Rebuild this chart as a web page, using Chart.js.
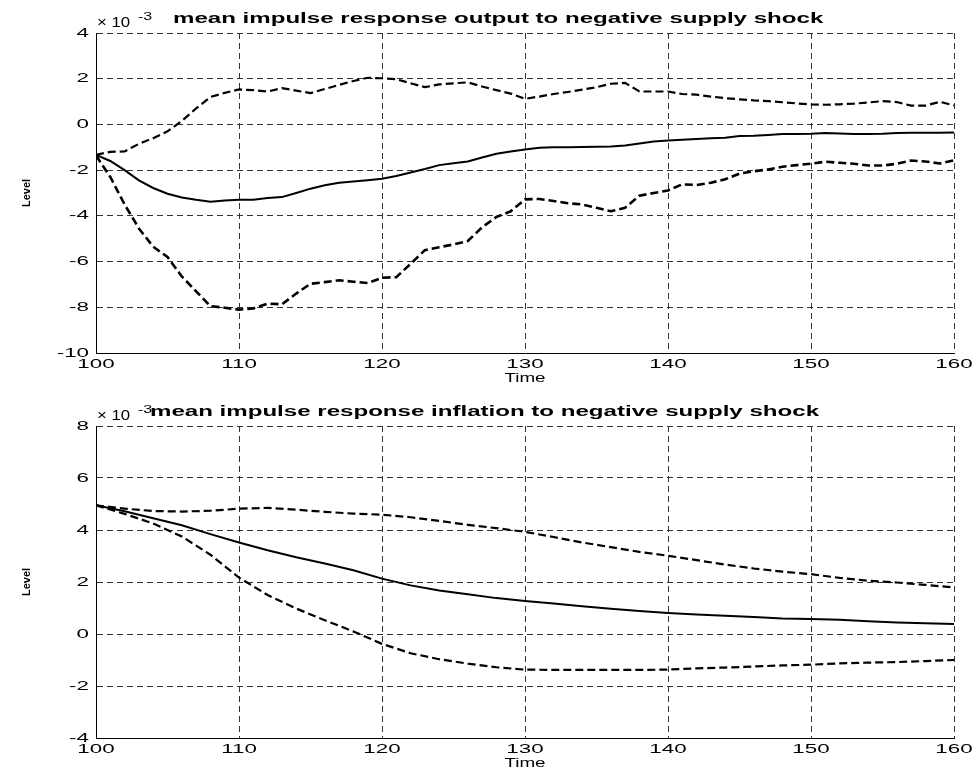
<!DOCTYPE html>
<html>
<head>
<meta charset="utf-8">
<script src="https://cdn.jsdelivr.net/npm/chart.js@4.4.1/dist/chart.umd.min.js"></script>
<style>
  html, body { margin: 0; padding: 0; background: #fff; }
  #wrap { position: relative; width: 977px; height: 769px; }
  canvas { position: absolute; left: 0; }
</style>
</head>
<body>
<div id="wrap">
  <canvas id="outputChart" width="977" height="390" style="top:0"></canvas>
  <canvas id="inflationChart" width="977" height="379" style="top:390px"></canvas>
</div>
<script>
// time axis of the output plot (every period)
const outputTimes = [100,101,102,103,104,105,106,107,108,109,110,111,112,113,114,115,116,117,118,119,
  120,121,122,123,124,125,126,127,128,129,130,131,132,133,134,135,136,137,138,139,
  140,141,142,143,144,145,146,147,148,149,150,151,152,153,154,155,156,157,158,159,160];

// output response, units of 1e-3
const outputUpper = [-1.33,-1.20,-1.18,-0.85,-0.60,-0.30,0.15,0.70,1.20,1.38,
  1.53,1.50,1.44,1.59,1.48,1.37,1.55,1.73,1.90,2.04,
  2.02,1.98,1.80,1.63,1.75,1.80,1.84,1.66,1.50,1.35,
  1.12,1.22,1.33,1.42,1.52,1.63,1.78,1.82,1.44,1.44,
  1.44,1.33,1.30,1.22,1.15,1.10,1.05,1.02,0.97,0.92,
  0.88,0.86,0.88,0.91,0.96,1.02,0.98,0.82,0.82,0.99,0.83];
const outputMean = [-1.33,-1.60,-2.00,-2.45,-2.78,-3.03,-3.20,-3.30,-3.38,-3.33,
  -3.29,-3.29,-3.22,-3.18,-3.00,-2.81,-2.66,-2.55,-2.50,-2.44,
  -2.38,-2.26,-2.10,-1.95,-1.78,-1.70,-1.62,-1.45,-1.28,-1.18,
  -1.10,-1.02,-1.00,-1.00,-0.99,-0.98,-0.97,-0.92,-0.83,-0.75,
  -0.70,-0.67,-0.64,-0.60,-0.58,-0.51,-0.50,-0.46,-0.42,-0.42,
  -0.41,-0.38,-0.40,-0.42,-0.42,-0.41,-0.38,-0.36,-0.36,-0.36,-0.35];
const outputLower = [-1.36,-2.30,-3.50,-4.55,-5.35,-5.80,-6.65,-7.30,-7.95,-8.02,
  -8.10,-8.05,-7.84,-7.87,-7.40,-6.97,-6.90,-6.82,-6.88,-6.94,
  -6.71,-6.68,-6.10,-5.50,-5.37,-5.25,-5.10,-4.50,-4.05,-3.80,
  -3.28,-3.26,-3.35,-3.45,-3.50,-3.65,-3.80,-3.65,-3.12,-3.00,
  -2.89,-2.62,-2.65,-2.55,-2.40,-2.15,-2.05,-1.97,-1.85,-1.78,
  -1.72,-1.63,-1.68,-1.72,-1.80,-1.80,-1.72,-1.58,-1.62,-1.71,-1.57];

// inflation plot, read every second period
const inflationTimes = [100,102,104,106,108,110,112,114,116,118,120,122,124,126,128,130,
  132,134,136,138,140,142,144,146,148,150,152,154,156,158,160];
const inflationUpper = [4.95,4.82,4.73,4.71,4.74,4.82,4.85,4.78,4.70,4.63,4.59,4.49,4.35,4.20,4.07,3.93,
  3.73,3.52,3.34,3.16,3.01,2.84,2.67,2.52,2.40,2.30,2.16,2.05,1.98,1.89,1.79];
const inflationMean = [4.95,4.72,4.45,4.18,3.84,3.52,3.22,2.95,2.71,2.45,2.13,1.87,1.67,1.53,1.38,1.27,
  1.17,1.07,0.97,0.88,0.81,0.75,0.70,0.65,0.60,0.58,0.55,0.49,0.44,0.41,0.38];
const inflationLower = [4.95,4.62,4.25,3.75,3.05,2.17,1.50,0.98,0.53,0.10,-0.38,-0.74,-0.97,-1.14,-1.28,-1.37,
  -1.38,-1.38,-1.38,-1.38,-1.37,-1.32,-1.29,-1.25,-1.21,-1.18,-1.13,-1.10,-1.08,-1.04,-1.00];

// tick labels
const timeTicks = [100,110,120,130,140,150,160];
const outputTicks = [-10,-8,-6,-4,-2,0,2,4];
const inflationTicks = [-4,-2,0,2,4,6,8];

const FONT = '"Liberation Sans", Arial, Helvetica, sans-serif';
const STRETCH = 1.72;

// draws text stretched horizontally, like the exported figure
function wideText(ctx, text, x, y, font, align, sx, baseline) {
    ctx.save();
    ctx.font = font;
    ctx.textBaseline = baseline || 'middle';
    ctx.textAlign = 'left';
    const w = ctx.measureText(text).width * sx;
    let left = x;
    if (align === 'center') left = x - w / 2;
    if (align === 'right') left = x - w;
    ctx.translate(left, y);
    ctx.scale(sx, 1);
    ctx.fillStyle = '#000';
    ctx.fillText(text, 0, 0);
    ctx.restore();
}

function points(times, values) {
    return times.map((t, i) => ({ x: t, y: values[i] }));
}

function makeChart(id, cfg) {
    const labelsPlugin = {
        id: 'matlabText',
        afterDraw(chart) {
            const ctx = chart.ctx;
            const xs = chart.scales.x;
            const ys = chart.scales.y;
            const area = chart.chartArea;
            cfg.yTicks.forEach(v => {
                wideText(ctx, String(v), 89, ys.getPixelForValue(v), '13px ' + FONT, 'right', STRETCH);
            });
            timeTicks.forEach(v => {
                wideText(ctx, String(v), xs.getPixelForValue(v), area.bottom + 11, '13px ' + FONT, 'center', STRETCH);
            });
            wideText(ctx, 'Time', (area.left + area.right) / 2, area.bottom + 25, '13px ' + FONT, 'center', 1.45);
            // exponent + title
            wideText(ctx, '\u00d7 10', 97, area.top - 6, '14px ' + FONT, 'left', 1.2, 'alphabetic');
            wideText(ctx, '-3', 138, area.top - 13, '10px ' + FONT, 'left', 1.6, 'alphabetic');
            wideText(ctx, cfg.title, cfg.titleX, area.top - 10, 'bold 14px ' + FONT, 'left', STRETCH, 'alphabetic');
            // rotated y label
            ctx.save();
            ctx.translate(27, (area.top + area.bottom) / 2);
            ctx.rotate(-Math.PI / 2);
            ctx.font = 'bold 11px ' + FONT;
            ctx.textAlign = 'center';
            ctx.textBaseline = 'middle';
            ctx.fillStyle = '#000';
            ctx.fillText('Level', 0, 0);
            ctx.restore();
        }
    };

    return new Chart(document.getElementById(id).getContext('2d'), {
        type: 'line',
        data: {
            datasets: [{
                label: 'upper',
                data: points(cfg.times, cfg.upper),
                borderColor: '#000',
                borderWidth: 2.2,
                borderDash: [8, 4],
                pointRadius: 0,
                tension: 0
            }, {
                label: 'mean',
                data: points(cfg.times, cfg.mean),
                borderColor: '#000',
                borderWidth: 2,
                pointRadius: 0,
                tension: 0
            }, {
                label: 'lower',
                data: points(cfg.times, cfg.lower),
                borderColor: '#000',
                borderWidth: cfg.lowerWidth,
                borderDash: [8, 4],
                pointRadius: 0,
                tension: 0
            }]
        },
        options: {
            responsive: false,
            animation: false,
            layout: { padding: { left: 0, right: 23, top: cfg.top, bottom: 0 } },
            plugins: {
                legend: { display: false },
                tooltip: { enabled: false }
            },
            scales: {
                x: {
                    type: 'linear',
                    min: 100,
                    max: 160,
                    ticks: { display: false, stepSize: 10 },
                    grid: { color: '#333', lineWidth: 1, drawTicks: false },
                    border: { display: true, color: '#000', width: 1, dash: [6, 4] },
                    afterFit: scale => { scale.height = cfg.xHeight; }
                },
                y: {
                    min: cfg.yMin,
                    max: cfg.yMax,
                    ticks: { display: false, stepSize: 2 },
                    grid: { color: '#333', lineWidth: 1, drawTicks: false },
                    border: { display: true, color: '#000', width: 1, dash: [6, 4] },
                    afterFit: scale => { scale.width = 96; }
                }
            }
        },
        plugins: [labelsPlugin]
    });
}

makeChart('outputChart', {
    times: outputTimes, upper: outputUpper, mean: outputMean, lower: outputLower,
    yMin: -10, yMax: 4, yTicks: outputTicks, top: 33, xHeight: 37, lowerWidth: 2.6,
    title: 'mean impulse response output to negative supply shock', titleX: 173
});

makeChart('inflationChart', {
    times: inflationTimes, upper: inflationUpper, mean: inflationMean, lower: inflationLower,
    yMin: -4, yMax: 8, yTicks: inflationTicks, top: 36, xHeight: 31, lowerWidth: 2.2,
    title: 'mean impulse response inflation to negative supply shock', titleX: 150
});
</script>
</body>
</html>
